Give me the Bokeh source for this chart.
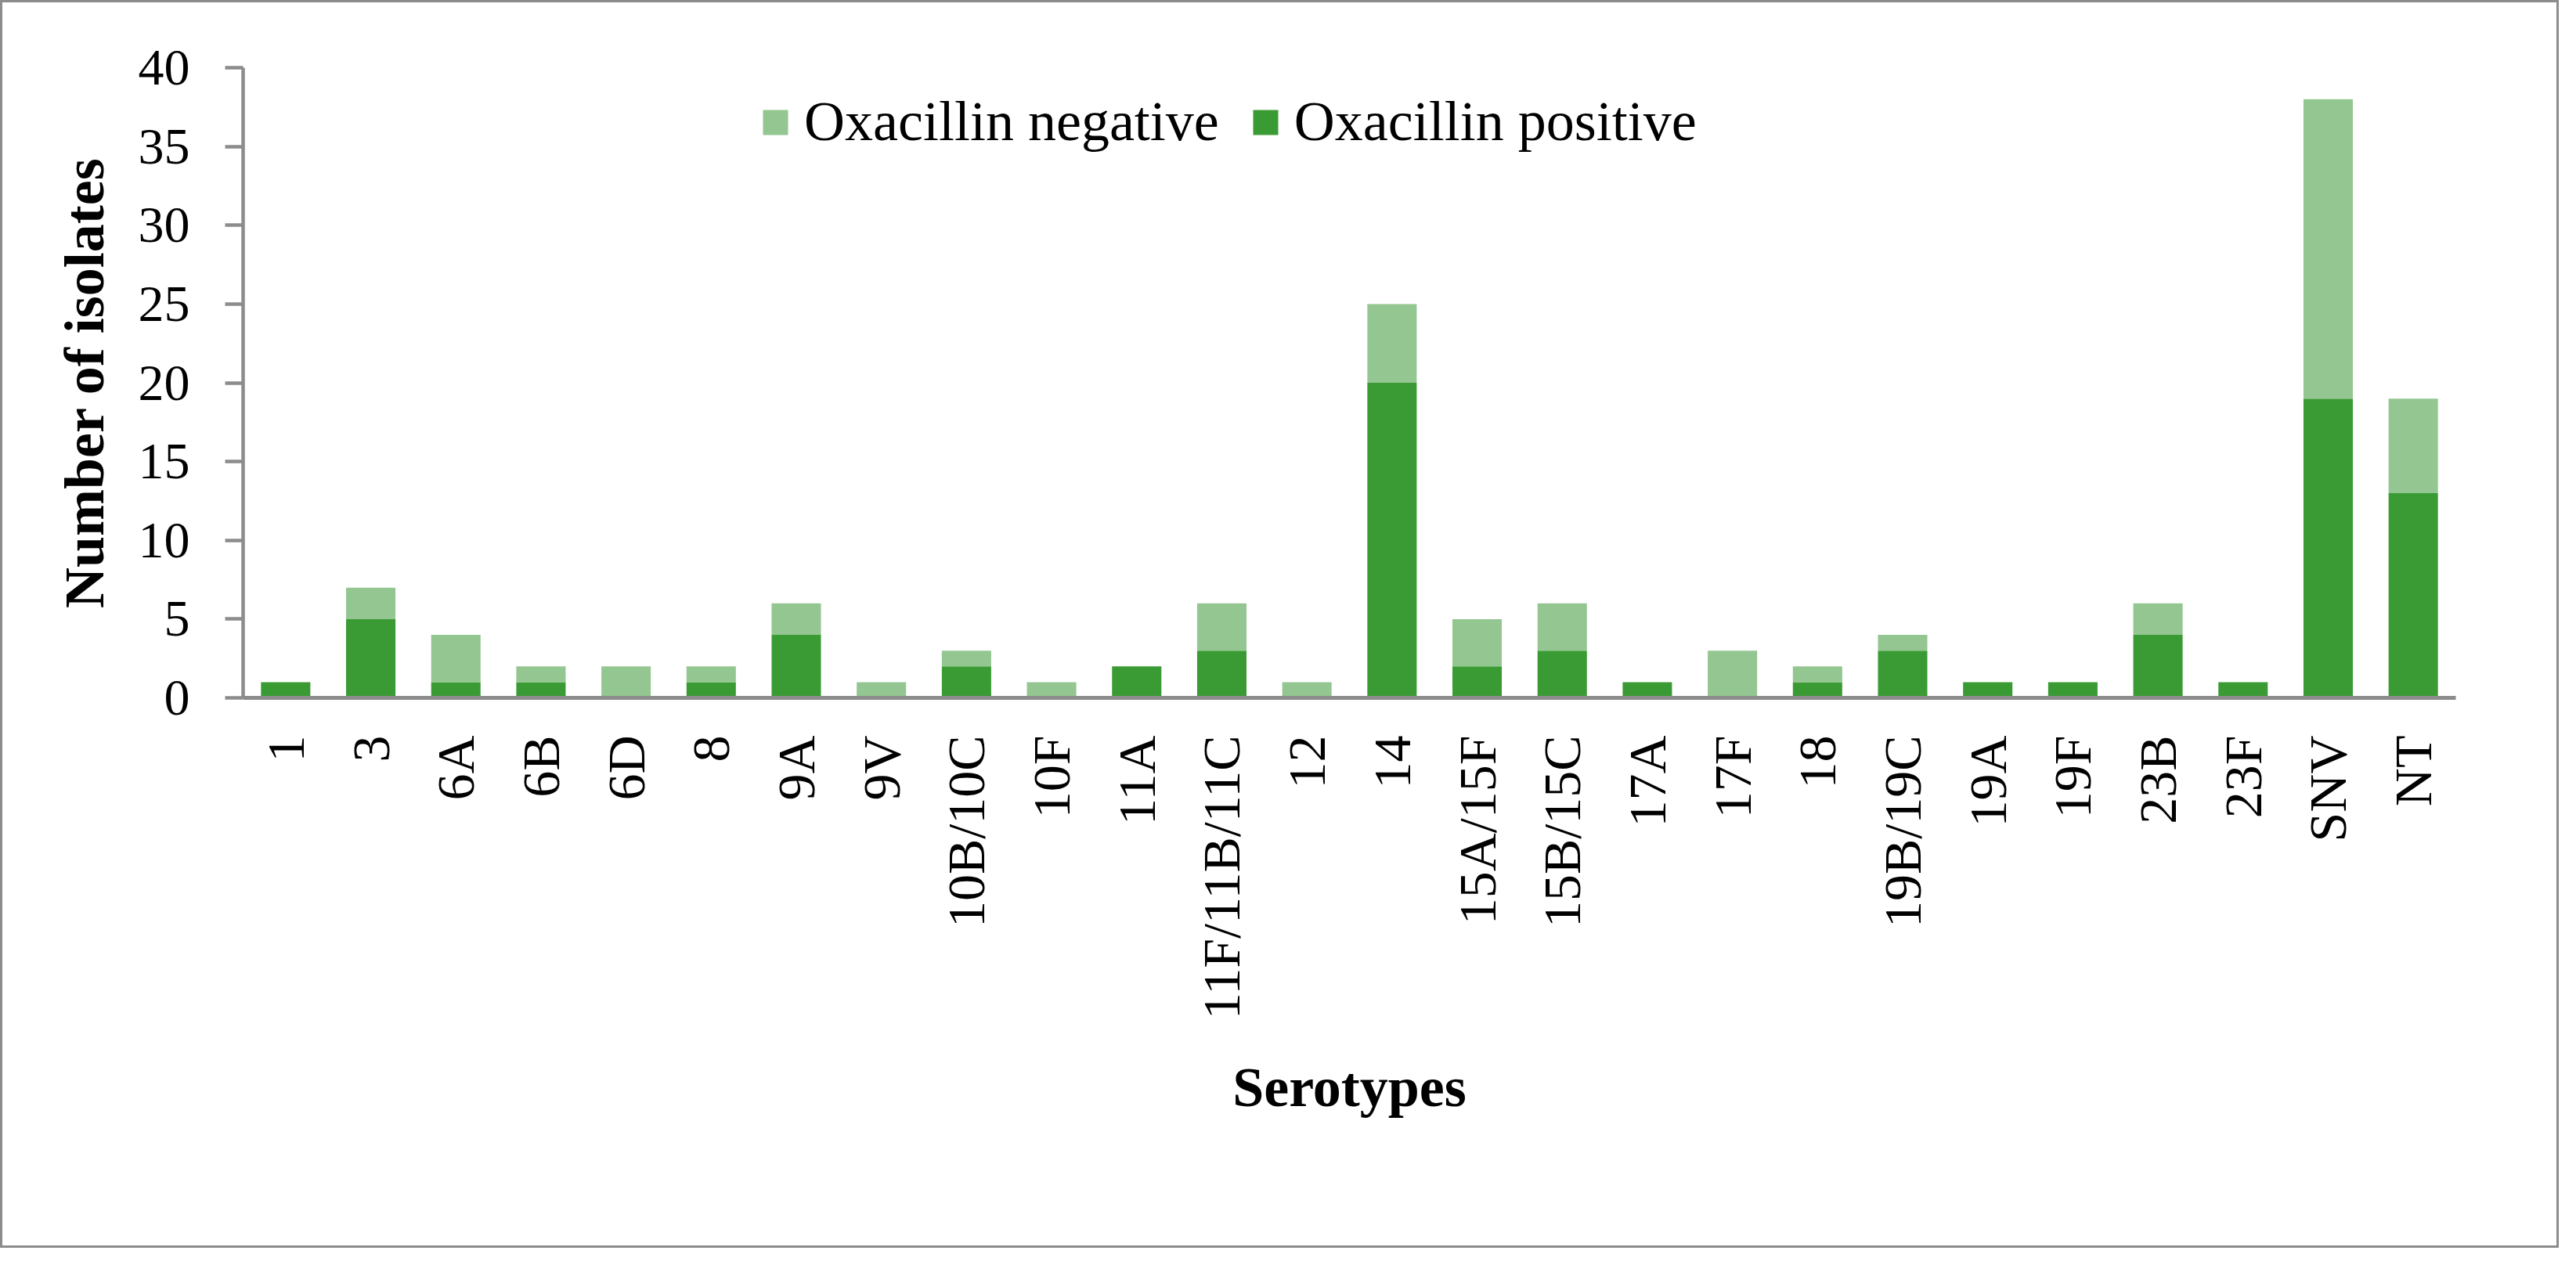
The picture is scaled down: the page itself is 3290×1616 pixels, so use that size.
import math
from bokeh.plotting import figure
from bokeh.models import ColumnDataSource, FactorRange, Range1d, Legend, LegendItem
from bokeh.embed import file_html
from bokeh.resources import INLINE

serotypes = ["1", "3", "6A", "6B", "6D", "8", "9A", "9V", "10B/10C", "10F", "11A",
             "11F/11B/11C", "12", "14", "15A/15F", "15B/15C", "17A", "17F", "18",
             "19B/19C", "19A", "19F", "23B", "23F", "SNV", "NT"]
oxa_positive = [1, 5, 1, 1, 0, 1, 4, 0, 2, 0, 2, 3, 0, 20, 2, 3, 1, 0, 1, 3, 1, 1, 4, 1, 19, 13]
oxa_negative = [0, 2, 3, 1, 2, 1, 2, 1, 1, 1, 0, 3, 1, 5, 3, 3, 0, 3, 1, 1, 0, 0, 2, 0, 19, 6]
y_ticks = [0, 5, 10, 15, 20, 25, 30, 35, 40]

DARK = "#3a9a33"
LIGHT = "#93c690"
GRAY = "#8c8c8c"
FONT = "Liberation Serif"

source = ColumnDataSource(dict(cat=serotypes, pos=oxa_positive, neg=oxa_negative))

p = figure(width=3268, height=1594, x_range=FactorRange(*serotypes), y_range=Range1d(0, 40),
           output_backend="svg", toolbar_location=None,
           min_border_left=307, min_border_right=135, min_border_top=83, min_border_bottom=706)
p.styles = {"border": f"3px solid {GRAY}"}
p.outline_line_color = None
p.grid.visible = False
p.x_range.range_padding = 0

r = p.vbar_stack(["pos", "neg"], x="cat", width=0.58, color=[DARK, LIGHT], line_color=None,
                 source=source)

legend = Legend(items=[LegendItem(label="Oxacillin negative", renderers=[r[1]]),
                       LegendItem(label="Oxacillin positive", renderers=[r[0]])],
                orientation="horizontal", location=(660, 694),
                glyph_width=40, glyph_height=40, label_standoff=17, spacing=39,
                padding=0, margin=0, border_line_color=None, background_fill_alpha=0,
                label_text_font=FONT, label_text_font_size="72px", label_text_color="black")
p.add_layout(legend)

# y axis
p.yaxis.ticker = y_ticks
p.yaxis.axis_label = "Number of isolates"
p.yaxis.axis_label_text_font = FONT
p.yaxis.axis_label_text_font_style = "bold"
p.yaxis.axis_label_text_font_size = "72px"
p.yaxis.axis_label_text_color = "black"
p.yaxis.axis_label_standoff = 26
p.yaxis.major_label_text_font = FONT
p.yaxis.major_label_text_font_size = "66px"
p.yaxis.major_label_text_color = "black"
p.yaxis.major_label_standoff = 45
p.yaxis.axis_line_color = GRAY
p.yaxis.axis_line_width = 4.5
p.yaxis.major_tick_line_color = GRAY
p.yaxis.major_tick_line_width = 4.5
p.yaxis.major_tick_out = 23
p.yaxis.major_tick_in = 0
p.yaxis.minor_tick_line_color = None

# x axis
p.xaxis.axis_label = "Serotypes"
p.xaxis.axis_label_text_font = FONT
p.xaxis.axis_label_text_font_style = "bold"
p.xaxis.axis_label_text_font_size = "72px"
p.xaxis.axis_label_text_color = "black"
p.xaxis.axis_label_standoff = 44
p.xaxis.major_label_orientation = math.pi / 2
p.xaxis.major_label_text_font = FONT
p.xaxis.major_label_text_font_size = "68px"
p.xaxis.major_label_text_color = "black"
p.xaxis.major_label_standoff = 48
p.xaxis.axis_line_color = GRAY
p.xaxis.axis_line_width = 5
p.xaxis.major_tick_line_color = None
p.xaxis.major_tick_out = 0
p.xaxis.major_tick_in = 0

open("out.html", "w").write(file_html(p, INLINE))
